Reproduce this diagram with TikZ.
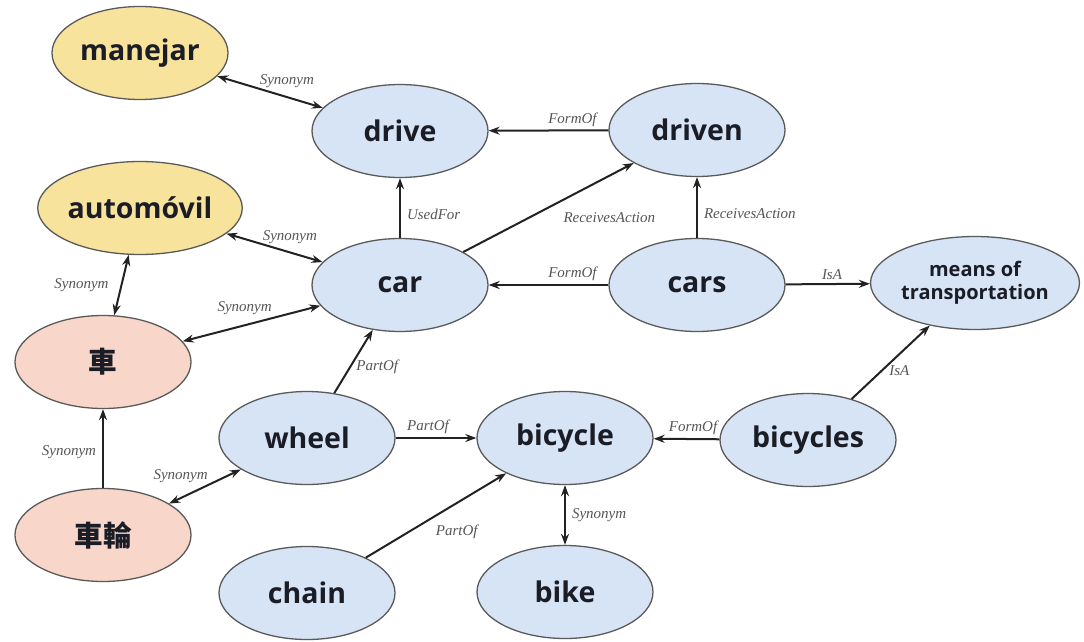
\documentclass[tikz,border=0pt]{standalone}
\usepackage{fontspec}
\setmainfont{Open Sans}
\newfontfamily\lblfont{Liberation Serif}
\newfontfamily\cjk{Noto Sans CJK SC}
\usetikzlibrary{shapes.geometric,arrows.meta,positioning}
\definecolor{nblue}{HTML}{D6E4F5}
\definecolor{nyellow}{HTML}{F8E39C}
\definecolor{npink}{HTML}{F8D6CA}
\definecolor{nborder}{HTML}{5A5A5A}
\definecolor{ntext}{HTML}{1A1C26}
\definecolor{ltext}{HTML}{555555}
\definecolor{edgec}{HTML}{222222}
\tikzset{
  concept/.style={ellipse, draw=nborder, line width=1.3pt, minimum width=176pt, minimum height=93pt, inner sep=0pt, text=ntext, font=\fontsize{28.5}{30}\selectfont\bfseries},
  bluen/.style={concept, fill=nblue},
  yellown/.style={concept, fill=nyellow},
  pinkn/.style={concept, fill=npink, font=\fontsize{28.5}{30}\selectfont\cjk\bfseries},
  rel/.style={draw=edgec, line width=2pt, -{Stealth[length=11pt,width=8pt]}},
  birel/.style={draw=edgec, line width=2pt, {Stealth[length=11pt,width=8pt]}-{Stealth[length=11pt,width=8pt]}},
  lbl/.style={font=\fontsize{15}{16}\selectfont\lblfont\itshape, text=ltext, inner sep=2pt}
}
\begin{document}
\begin{tikzpicture}[x=1pt,y=-1pt]
\useasboundingbox (0,0) rectangle (1084,642);
\node[yellown] (manejar) at (140,53) {manejar};
\node[bluen] (drive) at (400,131) {drive};
\node[bluen] (driven) at (697,130) {driven};
\node[yellown] (automovil) at (140,208) {automóvil};
\node[bluen] (car) at (400,285) {car};
\node[bluen] (cars) at (697,285) {cars};
\node[bluen, font=\fontsize{20}{23}\selectfont\bfseries, align=center] (means) at (975,283) {means of\\transportation};
\node[pinkn] (che) at (103,362) {車};
\node[bluen] (wheel) at (307,438) {wheel};
\node[bluen] (bicycle) at (565,438) {bicycle};
\node[bluen] (bicycles) at (808,440) {bicycles};
\node[pinkn] (chelun) at (103,535) {車輪};
\node[bluen] (chain) at (307,593) {chain};
\node[bluen] (bike) at (565,592) {bike};

\draw[birel] (manejar) -- node[lbl, pos=0.66, above=6pt] {Synonym} (drive);
\draw[rel] (driven) -- node[lbl, pos=0.3, above=1pt] {FormOf} (drive);
\draw[rel] (car) -- node[lbl, pos=0.4, right=4pt] {UsedFor} (drive);
\draw[rel] (car) -- node[lbl, pos=0.5, anchor=north west, xshift=12pt, yshift=-2pt] {ReceivesAction} (driven);
\draw[rel] (cars) -- node[lbl, pos=0.4, right=4pt] {ReceivesAction} (driven);
\draw[birel] (automovil) -- node[lbl, pos=0.66, above=6pt] {Synonym} (car);
\draw[birel] (che) -- node[lbl, pos=0.45, above=8pt] {Synonym} (car);
\draw[birel] (automovil) -- node[lbl, pos=0.5, left=10pt] {Synonym} (che);
\draw[rel] (cars) -- node[lbl, pos=0.3, above=1pt] {FormOf} (car);
\draw[rel] (cars) -- node[lbl, pos=0.55, above=1pt] {IsA} (means);
\draw[rel] (wheel) -- node[lbl, pos=0.42, right=3pt] {PartOf} (car);
\draw[rel] (wheel) -- node[lbl, pos=0.4, above=1pt] {PartOf} (bicycle);
\draw[rel] (bicycles) -- node[lbl, pos=0.4, above=1pt] {FormOf} (bicycle);
\draw[rel] (bicycles) -- node[lbl, pos=0.38, right=5pt] {IsA} (means);
\draw[rel] (chelun) -- node[lbl, pos=0.45, left=4pt] {Synonym} (che);
\draw[birel] (chelun) -- node[lbl, pos=0.3, above=8pt, xshift=-10pt] {Synonym} (wheel);
\draw[rel] (chain) -- node[lbl, pos=0.45, anchor=north west, xshift=4pt, yshift=-2pt] {PartOf} (bicycle);
\draw[birel] (bicycle) -- node[lbl, right=4pt] {Synonym} (bike);
\end{tikzpicture}
\end{document}
